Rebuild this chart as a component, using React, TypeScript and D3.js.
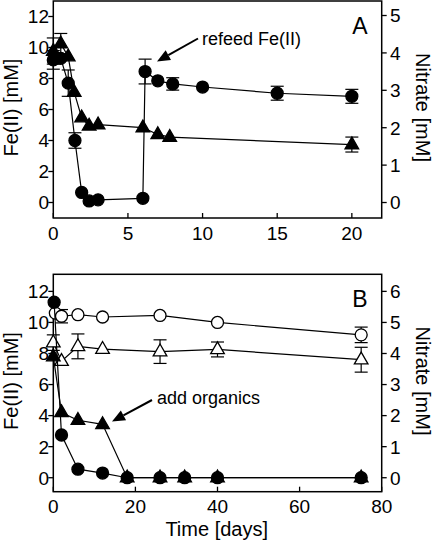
import React from "react";
import * as d3 from "d3";

// ---------- Panel A data ----------
const aFeDays = [0, 0.5, 1, 1.45, 1.9, 2.4, 3, 6, 6.15, 7, 8, 10, 15, 20];
const aFe = [9.2, 9.3, 7.7, 4.0, 0.65, 0.1, 0.17, 0.27, 8.45, 7.85, 7.65, 7.45, 7.05, 6.85];
const aFeErr = [0.6, 0, 0.85, 0.5, 0, 0, 0, 0, 0.8, 0, 0.4, 0, 0.45, 0.45];

const aNoDays = [0, 0.5, 1, 1.4, 1.9, 2.4, 3, 6, 7, 7.8, 20];
const aNo = [4.05, 4.25, 3.9, 2.95, 2.27, 2.05, 2.08, 2.0, 1.82, 1.75, 1.55];
const aNoErr = [0.35, 0.27, 0, 0, 0, 0, 0, 0, 0, 0, 0.2];

// ---------- Panel B data ----------
const bFeDays = [0.2, 2, 6, 12, 18, 26, 32, 40, 75];
const bFe = [11.3, 2.75, 0.55, 0.3, 0, 0, 0, 0, 0];

const bNoDays = [0, 2, 6, 12, 18, 26, 32, 40, 75];
const bNo = [3.9, 2.1, 1.85, 1.72, 0, 0, 0, 0, 0];

const bFeCtrlDays = [0.5, 2, 6, 12, 26, 40, 75];
const bFeCtrl = [10.6, 10.4, 10.5, 10.35, 10.45, 10.0, 9.2];
const bFeCtrlErr = [0, 0.43, 0, 0, 0, 0, 0.5];

const bNoCtrlDays = [0, 2, 6, 12, 26, 40, 75];
const bNoCtrl = [4.35, 3.75, 4.23, 4.14, 4.06, 4.13, 3.8];
const bNoCtrlErr = [0.25, 0, 0.4, 0, 0.38, 0.24, 0.4];

// ---------- ticks ----------
const aXTicks = [0, 5, 10, 15, 20];
const bXTicks = [0, 20, 40, 60, 80];
const feTicks = [0, 2, 4, 6, 8, 10, 12];
const aNoTicks = [0, 1, 2, 3, 4, 5];
const bNoTicks = [0, 1, 2, 3, 4, 5, 6];

const FONT = "'Liberation Sans', Arial, Helvetica, sans-serif";
const L = 53.3;
const R = 381.7;

type Pt = { x: number; y: number; e: number };

function zip(days: number[], vals: number[], errs?: number[]): Pt[] {
  return days.map((d, i) => ({ x: d, y: vals[i], e: errs ? errs[i] : 0 }));
}

const triPath = "M0,-7.6L6.8,4.2L-6.8,4.2Z";

function Series({
  data, xs, ys, marker, filled,
}: {
  data: Pt[];
  xs: d3.ScaleLinear<number, number>;
  ys: d3.ScaleLinear<number, number>;
  marker: "circle" | "tri";
  filled: boolean;
}) {
  const line = d3.line<Pt>().x((d) => xs(d.x)).y((d) => ys(d.y));
  return (
    <g>
      <path d={line(data) || ""} fill="none" stroke="#000" strokeWidth={1.2} />
      {data.filter((d) => d.e > 0).map((d, i) => {
        const cx = xs(d.x);
        const y1 = ys(d.y + d.e);
        const y2 = ys(d.y - d.e);
        return (
          <g key={"e" + i} stroke="#000" strokeWidth={1.2}>
            <line x1={cx} x2={cx} y1={y1} y2={y2} />
            <line x1={cx - 6.5} x2={cx + 6.5} y1={y1} y2={y1} />
            <line x1={cx - 6.5} x2={cx + 6.5} y1={y2} y2={y2} />
          </g>
        );
      })}
      {data.map((d, i) =>
        marker === "circle" ? (
          <circle key={i} cx={xs(d.x)} cy={ys(d.y)} r={6}
            fill={filled ? "#000" : "#fff"} stroke="#000" strokeWidth={1.3} />
        ) : (
          <path key={i} d={triPath} transform={`translate(${xs(d.x)},${ys(d.y)})`}
            fill={filled ? "#000" : "#fff"} stroke="#000" strokeWidth={1.3} />
        )
      )}
    </g>
  );
}

function Frame({
  top, bottom, xs, yl, yr, xTicks, lTicks, rTicks, xLabelY, letter,
}: {
  top: number; bottom: number;
  xs: d3.ScaleLinear<number, number>;
  yl: d3.ScaleLinear<number, number>;
  yr: d3.ScaleLinear<number, number>;
  xTicks: number[]; lTicks: number[]; rTicks: number[];
  xLabelY: number; letter: string;
}) {
  const mid = (top + bottom) / 2;
  return (
    <g fontFamily={FONT} fill="#000">
      <rect x={L} y={top} width={R - L} height={bottom - top} fill="none" stroke="#000" strokeWidth={1.5} />
      {xTicks.map((t) => (
        <g key={"x" + t}>
          <line x1={xs(t)} x2={xs(t)} y1={bottom} y2={bottom - 5} stroke="#000" strokeWidth={1.3} />
          <text x={xs(t)} y={xLabelY} textAnchor="middle" fontSize={19}>{t}</text>
        </g>
      ))}
      {lTicks.map((t) => (
        <g key={"l" + t}>
          <line x1={L} x2={L - 5} y1={yl(t)} y2={yl(t)} stroke="#000" strokeWidth={1.3} />
          <text x={49} y={yl(t)} dy="0.36em" textAnchor="end" fontSize={19}>{t}</text>
        </g>
      ))}
      {rTicks.map((t) => (
        <g key={"r" + t}>
          <line x1={R} x2={R + 5} y1={yr(t)} y2={yr(t)} stroke="#000" strokeWidth={1.3} />
          <text x={390} y={yr(t)} dy="0.36em" textAnchor="start" fontSize={19}>{t}</text>
        </g>
      ))}
      <text transform={`translate(11,${mid - 2}) rotate(-90)`} dy="0.36em" textAnchor="middle" fontSize={20}>Fe(II) [mM]</text>
      <text transform={`translate(423,${mid - 2}) rotate(90)`} dy="0.36em" textAnchor="middle" fontSize={20}>Nitrate [mM]</text>
      <text x={360} y={top + 32.5} textAnchor="middle" fontSize={23}>{letter}</text>
    </g>
  );
}

function Arrow({ x1, y1, x2, y2 }: { x1: number; y1: number; x2: number; y2: number }) {
  const ang = Math.atan2(y2 - y1, x2 - x1);
  const len = 13;
  const w = 5.5;
  const bx = x2 - len * Math.cos(ang);
  const by = y2 - len * Math.sin(ang);
  const px = -Math.sin(ang) * w;
  const py = Math.cos(ang) * w;
  return (
    <g>
      <line x1={x1} y1={y1} x2={bx} y2={by} stroke="#000" strokeWidth={2} />
      <path d={`M${x2},${y2}L${bx + px},${by + py}L${bx - px},${by - py}Z`} fill="#000" />
    </g>
  );
}

export default function App() {
  const aTop = 1, aBottom = 218;
  const bTop = 274.3, bBottom = 491.7;
  const xa = d3.scaleLinear().domain([0, 22]).range([L, R]);
  const yaFe = d3.scaleLinear().domain([-1, 13]).range([aBottom, aTop]);
  const yaNo = d3.scaleLinear().domain([-0.414, 5.388]).range([aBottom, aTop]);
  const xb = d3.scaleLinear().domain([0, 80]).range([L, R]);
  const ybFe = d3.scaleLinear().domain([-0.9, 13.1]).range([bBottom, bTop]);
  const ybNo = d3.scaleLinear().domain([-0.45, 6.55]).range([bBottom, bTop]);

  return (
    <svg width={433} height={546} style={{ position: "absolute", left: 0, top: 0, background: "#fff" }}>
      <rect x={0} y={0} width={433} height={546} fill="#fff" />
      {/* Panel A */}
      <Frame top={aTop} bottom={aBottom} xs={xa} yl={yaFe} yr={yaNo}
        xTicks={aXTicks} lTicks={feTicks} rTicks={aNoTicks} xLabelY={240} letter="A" />
      <Series data={zip(aNoDays, aNo, aNoErr)} xs={xa} ys={yaNo} marker="tri" filled />
      <Series data={zip(aFeDays, aFe, aFeErr)} xs={xa} ys={yaFe} marker="circle" filled />
      <Arrow x1={198} y1={38.5} x2={157} y2={61.5} />
      <text x={202} y={45} fontFamily={FONT} fontSize={18}>refeed Fe(II)</text>

      {/* Panel B */}
      <Frame top={bTop} bottom={bBottom} xs={xb} yl={ybFe} yr={ybNo}
        xTicks={bXTicks} lTicks={feTicks} rTicks={bNoTicks} xLabelY={513} letter="B" />
      <Series data={zip(bFeCtrlDays, bFeCtrl, bFeCtrlErr)} xs={xb} ys={ybFe} marker="circle" filled={false} />
      <Series data={zip(bNoCtrlDays, bNoCtrl, bNoCtrlErr)} xs={xb} ys={ybNo} marker="tri" filled={false} />
      <Series data={zip(bNoDays, bNo)} xs={xb} ys={ybNo} marker="tri" filled />
      <Series data={zip(bFeDays, bFe)} xs={xb} ys={ybFe} marker="circle" filled />
      <Arrow x1={152} y1={400} x2={112} y2={421.5} />
      <text x={157} y={404} fontFamily={FONT} fontSize={18}>add organics</text>
      <text x={216.7} y={536} textAnchor="middle" fontFamily={FONT} fontSize={20}>Time [days]</text>
    </svg>
  );
}
